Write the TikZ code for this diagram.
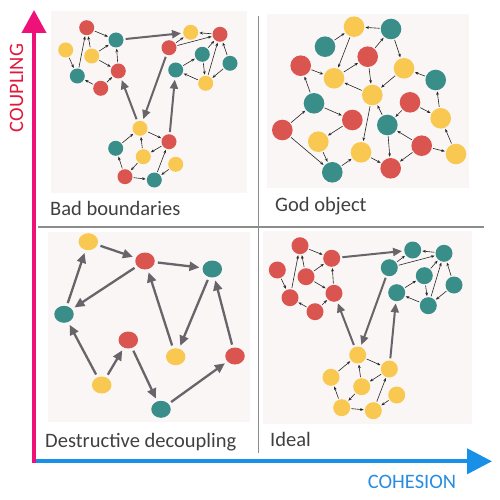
\documentclass[tikz,border=0pt]{standalone}
\usepackage{fontspec}
\setmainfont{Carlito}
\usetikzlibrary{arrows.meta,shapes.geometric}
\definecolor{tealc}{RGB}{58,142,138}
\definecolor{redc}{RGB}{218,85,80}
\definecolor{yelc}{RGB}{248,200,80}
\definecolor{bgc}{RGB}{250,246,245}
\definecolor{bigarr}{RGB}{105,100,105}
\definecolor{txtc}{RGB}{64,64,64}
\definecolor{divc}{RGB}{140,140,140}
\definecolor{pinkc}{RGB}{238,18,120}
\definecolor{bluec}{RGB}{24,144,232}
\definecolor{coupc}{RGB}{226,24,60}
\definecolor{cohc}{RGB}{40,140,225}
\begin{document}
\begin{tikzpicture}[x=1pt,y=-1pt,
  bbn/.style={circle,inner sep=0pt,minimum size=15pt},
  idn/.style={circle,inner sep=0pt,minimum size=17pt},
  gon/.style={circle,inner sep=0pt,minimum size=20.6pt},
  ddn/.style={ellipse,inner sep=0pt,minimum width=19.5pt,minimum height=17pt},
  cT/.style={fill=tealc},
  cR/.style={fill=redc},
  cY/.style={fill=yelc},
  sa/.style={-{Stealth[length=3.5pt,width=2.8pt]},line width=0.6pt,draw=black!85,shorten >=1pt,shorten <=1pt},
  ba/.style={-{Triangle[length=9pt,width=8pt]},line width=2pt,draw=bigarr,shorten >=2pt,shorten <=2pt},
  da/.style={-{Triangle[length=10pt,width=9pt]},line width=2.3pt,draw=bigarr,shorten >=3pt,shorten <=3pt},
  panel/.style={fill=bgc,draw=none},
  lbl/.style={font=\fontsize{20.5}{24}\selectfont,text=txtc,inner sep=0pt,anchor=base west},
  axl/.style={font=\fontsize{20.5}{24}\selectfont,inner sep=0pt},
  divl/.style={draw=divc,line width=1.5pt}]
\useasboundingbox (0,0) rectangle (500,500);
% panels
\fill[panel] (51,11) rectangle (247,193);
\fill[panel] (267,14) rectangle (469,188);
\fill[panel] (48,232) rectangle (250,422);
\fill[panel] (263,231) rectangle (472,424);
% dividers
\coordinate (hl) at (38,227); \coordinate (hr) at (484,227);
\coordinate (vt) at (258.5,16); \coordinate (vb) at (258.5,453);
\draw[divl] (hl) -- (hr);
\draw[divl] (vt) -- (vb);
% axes
\coordinate (bx0) at (36,461.3); \coordinate (bx1) at (492,461.3);
\coordinate (py0) at (34,463.3); \coordinate (py1) at (34,10);
\draw[line width=4pt,draw=bluec,-{Triangle[length=25pt,width=25pt]}] (bx0) -- (bx1);
\draw[line width=4pt,draw=pinkc,-{Triangle[length=23pt,width=24pt]}] (py0) -- (py1);
\node[axl,rotate=90,text=coupc] (coup) at (16.5,88) {COUPLING};
\node[axl,text=cohc] (coh) at (412,482) {COHESION};
% labels
\node[lbl] (l1) at (50,215) {Bad boundaries};
\node[lbl] (l2) at (275,211.7) {God object};
\node[lbl] (l3) at (45,447.7) {Destructive decoupling};
\node[lbl] (l4) at (270,446.7) {Ideal};

% ---------- Bad boundaries ----------
\node[bbn,cR] (a1) at (86.7,27.7) {};
\node[bbn,cT] (a2) at (116,40) {};
\node[bbn,cY] (a3) at (65.7,50) {};
\node[bbn,cY] (a4) at (91.7,56) {};
\node[bbn,cT] (a5) at (77.3,76) {};
\node[bbn,cR] (a6) at (118.3,71) {};
\node[bbn,cR] (a7) at (100.7,88.3) {};
\node[bbn,cY] (b1) at (190.7,32.3) {};
\node[bbn,cR] (b2) at (220,34.3) {};
\node[bbn,cR] (b3) at (169,47.7) {};
\node[bbn,cT] (b4) at (202.3,54.3) {};
\node[bbn,cT] (b5) at (230,63.3) {};
\node[bbn,cT] (b6) at (175.7,70) {};
\node[bbn,cY] (b7) at (205.7,83.3) {};
\node[bbn,cY] (c1) at (140,128.3) {};
\node[bbn,cR] (c2) at (169,141.7) {};
\node[bbn,cT] (c3) at (115.7,148.3) {};
\node[bbn,cY] (c4) at (143.3,156.7) {};
\node[bbn,cY] (c5) at (175.7,164.3) {};
\node[bbn,cR] (c6) at (125,176.7) {};
\node[bbn,cT] (c7) at (154.3,180) {};
\foreach \s/\t in {a1/a2,a3/a5,a5/a1,a4/a1,a4/a2,a4/a6,a6/a2,a7/a5,a7/a6,
  b2/b1,b3/b1,b3/b2,b4/b2,b4/b7,b7/b2,b5/b2,b5/b7,b6/b4,b7/b6,
  c3/c1,c1/c2,c4/c1,c2/c4,c6/c3,c4/c6,c6/c7,c7/c2,c5/c7}
  \draw[sa] (\s) -- (\t);
\foreach \s/\t in {c1/a6,b3/c1,c2/b6,a2/b1}
  \draw[ba] (\s) -- (\t);

% ---------- Ideal ----------
\node[idn,cR] (r1) at (300,245.7) {};
\node[idn,cR] (r2) at (331.7,258.3) {};
\node[idn,cR] (r3) at (277.3,270) {};
\node[idn,cR] (r4) at (306,276.7) {};
\node[idn,cR] (r5) at (290,297.7) {};
\node[idn,cR] (r6) at (334,293.3) {};
\node[idn,cR] (r7) at (315,311.7) {};
\node[idn,cT] (t1) at (412.7,250) {};
\node[idn,cT] (t2) at (444,253.3) {};
\node[idn,cT] (t3) at (389.3,267.7) {};
\node[idn,cT] (t4) at (424.3,275.7) {};
\node[idn,cT] (t5) at (454,285) {};
\node[idn,cT] (t6) at (396.7,292.7) {};
\node[idn,cT] (t7) at (428.3,305.7) {};
\node[idn,cY] (y1) at (357.7,355) {};
\node[idn,cY] (y2) at (389.3,369) {};
\node[idn,cY] (y3) at (331,377.3) {};
\node[idn,cY] (y4) at (361.7,386.7) {};
\node[idn,cY] (y5) at (396.7,395) {};
\node[idn,cY] (y6) at (341.7,407.7) {};
\node[idn,cY] (y7) at (373.3,410.7) {};
\foreach \s/\t in {r1/r2,r3/r5,r5/r1,r4/r1,r4/r2,r4/r6,r6/r2,r7/r5,r7/r6,
  t2/t1,t3/t1,t3/t2,t4/t2,t4/t7,t7/t2,t5/t2,t5/t7,t6/t4,t7/t6,
  y3/y1,y1/y2,y4/y1,y2/y4,y6/y3,y4/y6,y6/y7,y7/y2,y5/y7}
  \draw[sa] (\s) -- (\t);
\foreach \s/\t in {y1/r6,t3/y1,y2/t6,r2/t1}
  \draw[ba] (\s) -- (\t);

% ---------- God object ----------
\node[gon,cY] (g1) at (354,26.7) {};
\node[gon,cT] (g2) at (391,29) {};
\node[gon,cT] (g3) at (325,46.7) {};
\node[gon,cR] (g4) at (367.7,56.7) {};
\node[gon,cR] (g5) at (300.7,65.7) {};
\node[gon,cY] (g6) at (334,78.3) {};
\node[gon,cY] (g7) at (404,68.3) {};
\node[gon,cT] (g8) at (435.7,80) {};
\node[gon,cY] (g9) at (372.3,95) {};
\node[gon,cT] (g10) at (314,103.3) {};
\node[gon,cR] (g11) at (410,102.3) {};
\node[gon,cR] (g12) at (352.3,120) {};
\node[gon,cY] (g13) at (440.7,118.3) {};
\node[gon,cT] (g14) at (387.3,125) {};
\node[gon,cR] (g15) at (282.3,130) {};
\node[gon,cY] (g16) at (318.3,141.7) {};
\node[gon,cR] (g17) at (421.7,145.7) {};
\node[gon,cY] (g18) at (361,152.3) {};
\node[gon,cY] (g19) at (456,154) {};
\node[gon,cT] (g20) at (332.3,172.3) {};
\node[gon,cR] (g21) at (390.7,168.3) {};
\foreach \s/\t in {g2/g1,g3/g1,g1/g6,g4/g2,g2/g7,g6/g4,g5/g6,g4/g9,g7/g9,g8/g7,
  g9/g6,g10/g5,g15/g10,g10/g12,g9/g18,g14/g9,g11/g14,g11/g13,g13/g8,g12/g16,
  g16/g20,g15/g20,g20/g18,g18/g21,g14/g21,g17/g14,g17/g21,g17/g19,g19/g13}
  \draw[sa] (\s) -- (\t);

% ---------- Destructive decoupling ----------
\node[ddn,cY] (d1) at (88.3,241.7) {};
\node[ddn,cR] (d2) at (145,261) {};
\node[ddn,cT] (d3) at (212.3,269) {};
\node[ddn,cT] (d4) at (64,314.3) {};
\node[ddn,cR] (d5) at (128.3,340) {};
\node[ddn,cY] (d6) at (175.7,356.7) {};
\node[ddn,cR] (d7) at (235,356) {};
\node[ddn,cY] (d8) at (101.7,385) {};
\node[ddn,cT] (d9) at (161,409.3) {};
\foreach \s/\t in {d4/d1,d1/d2,d2/d3,d2/d4,d3/d6,d6/d2,d8/d4,d8/d5,d5/d9,d9/d7,d7/d3}
  \draw[da] (\s) -- (\t);
\end{tikzpicture}
\end{document}
